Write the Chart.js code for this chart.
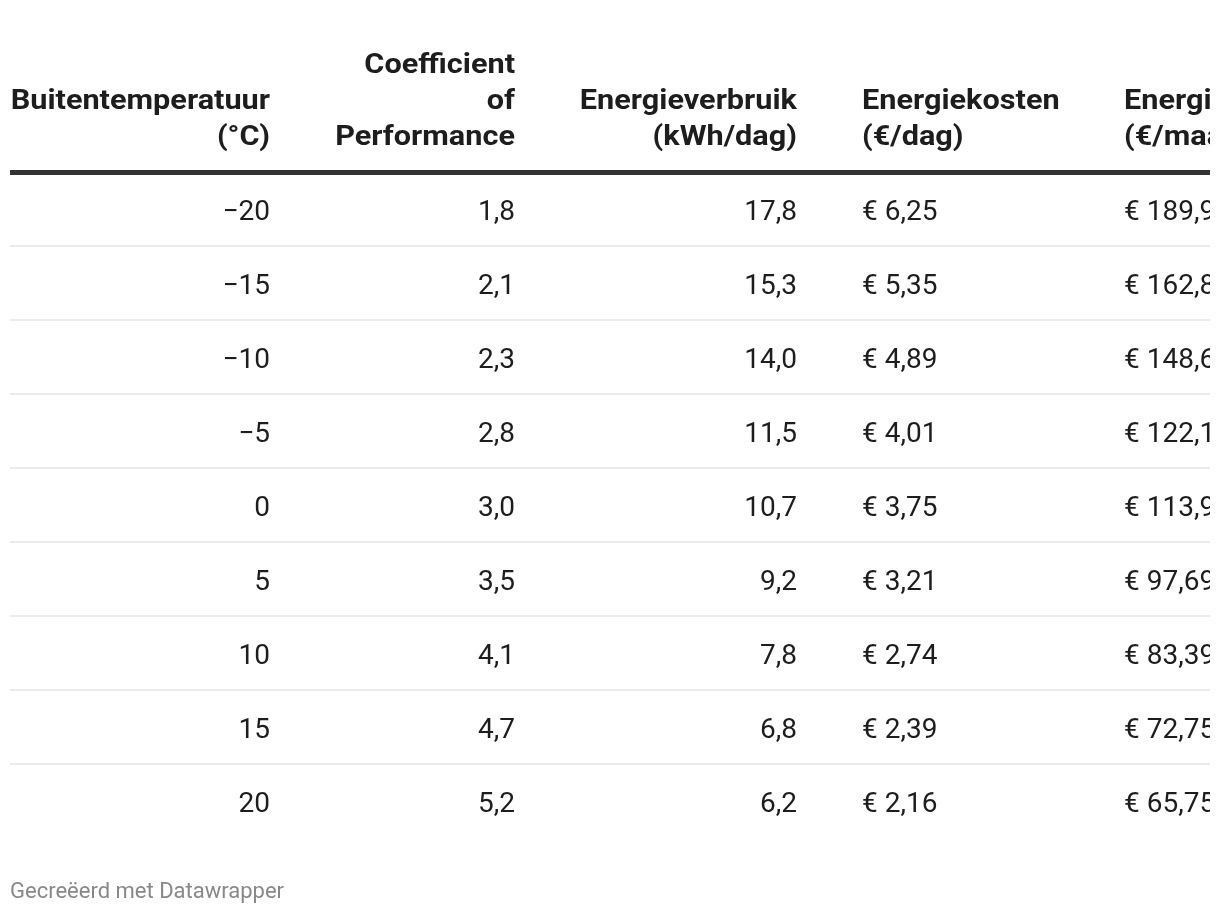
<!DOCTYPE html>
<html>
<head>
<meta charset="utf-8">
<script src="https://cdn.jsdelivr.net/npm/chart.js@4"></script>
<style>
  body { margin: 0; background: #fff; }
  #tabel { display: block; }
</style>
</head>
<body>
<canvas id="tabel" width="1220" height="914"></canvas>
<script>
// data van de tabel
var temperaturen = [-20, -15, -10, -5, 0, 5, 10, 15, 20];
var cop = [1.8, 2.1, 2.3, 2.8, 3.0, 3.5, 4.1, 4.7, 5.2];
var verbruik = [17.8, 15.3, 14.0, 11.5, 10.7, 9.2, 7.8, 6.8, 6.2];
var kostenDag = [6.25, 5.35, 4.89, 4.01, 3.75, 3.21, 2.74, 2.39, 2.16];
var kostenMaand = [189.93, 162.81, 148.63, 122.13, 113.97, 97.69, 83.39, 72.75, 65.75];

// kolomkoppen
var koppen = [
    ['Buitentemperatuur', '(°C)'],
    ['Coefficient', 'of', 'Performance'],
    ['Energieverbruik', '(kWh/dag)'],
    ['Energiekosten', '(€/dag)'],
    ['Energiekosten', '(€/maand)']
];

// opmaak
var rijLabels = temperaturen.map(String);
var kolomAnker = [260, 505, 787, 852, 1114];
var kolomUitlijning = ['right', 'right', 'right', 'left', 'left'];
var tekstKleur = '#1d1d1d';

function komma(v, d) {
    return v.toFixed(d).replace('.', ',');
}
function temp(v) {
    return v < 0 ? '\u2212' + Math.abs(v) : String(v);
}

var kolomTeksten = [
    temperaturen.map(temp),
    cop.map(function (v) { return komma(v, 1); }),
    verbruik.map(function (v) { return komma(v, 1); }),
    kostenDag.map(function (v) { return '€ ' + komma(v, 2); }),
    kostenMaand.map(function (v) { return '€ ' + komma(v, 2); })
];

var datasets = kolomTeksten.map(function (teksten, k) {
    return {
        label: koppen[k].join(' '),
        teksten: teksten,
        uitlijning: kolomUitlijning[k],
        pointRadius: 0,
        pointHoverRadius: 0,
        data: rijLabels.map(function (r) { return { x: kolomAnker[k], y: r }; })
    };
});

// plugin die de cellen en koppen tekent
var tabelPlugin = {
    id: 'tabelTekst',
    afterDatasetsDraw: function (chart) {
        var ctx = chart.ctx;
        var area = chart.chartArea;
        var x = chart.scales.x;
        ctx.save();
        ctx.beginPath();
        ctx.rect(area.left, 0, area.right - area.left, chart.height);
        ctx.clip();
        ctx.fillStyle = tekstKleur;
        ctx.textBaseline = 'middle';

        // cellen
        ctx.font = '28px Roboto';
        chart.data.datasets.forEach(function (ds, k) {
            var meta = chart.getDatasetMeta(k);
            ctx.textAlign = ds.uitlijning;
            meta.data.forEach(function (pt, i) {
                ctx.fillText(ds.teksten[i], pt.x, pt.y + 4);
            });
        });

        // koppen, onderaan uitgelijnd (iets breder getekend)
        ctx.font = 'bold 28px Roboto';
        koppen.forEach(function (regels, k) {
            ctx.textAlign = kolomUitlijning[k];
            var px = x.getPixelForValue(kolomAnker[k]);
            regels.forEach(function (t, j) {
                var y = area.top - 34 - (regels.length - 1 - j) * 36;
                ctx.save();
                ctx.translate(px, y);
                ctx.scale(1.095, 1);
                ctx.fillText(t, 0, 0);
                ctx.restore();
            });
        });
        ctx.restore();
    }
};

var ctx = document.querySelector('#tabel').getContext('2d');
var tabel = new Chart(ctx, {
    type: 'scatter',
    data: { labels: rijLabels, datasets: datasets },
    options: {
        responsive: false,
        animation: false,
        devicePixelRatio: 1,
        layout: { padding: { left: 10, right: 10, top: 172, bottom: 8 } },
        plugins: {
            legend: { display: false },
            tooltip: { enabled: false },
            subtitle: {
                display: true,
                position: 'bottom',
                align: 'start',
                text: 'Gecreëerd met Datawrapper',
                color: '#888888',
                font: { family: 'Roboto', size: 22, weight: 'normal' },
                lineHeight: 1.2,
                padding: { top: 41.8, bottom: 0 }
            }
        },
        scales: {
            x: {
                type: 'linear',
                min: 0,
                max: 1200,
                display: false
            },
            y: {
                type: 'category',
                labels: rijLabels,
                offset: true,
                ticks: { display: false },
                border: { display: false },
                grid: {
                    offset: true,
                    drawTicks: false,
                    color: function (c) {
                        if (c.type !== 'tick') return 'rgba(0,0,0,0)';
                        if (c.index === 0) return '#333333';
                        return '#ebebeb';
                    },
                    lineWidth: function (c) {
                        return c.type === 'tick' && c.index === 0 ? 5 : 2;
                    }
                }
            }
        }
    },
    plugins: [tabelPlugin]
});
</script>
</body>
</html>
